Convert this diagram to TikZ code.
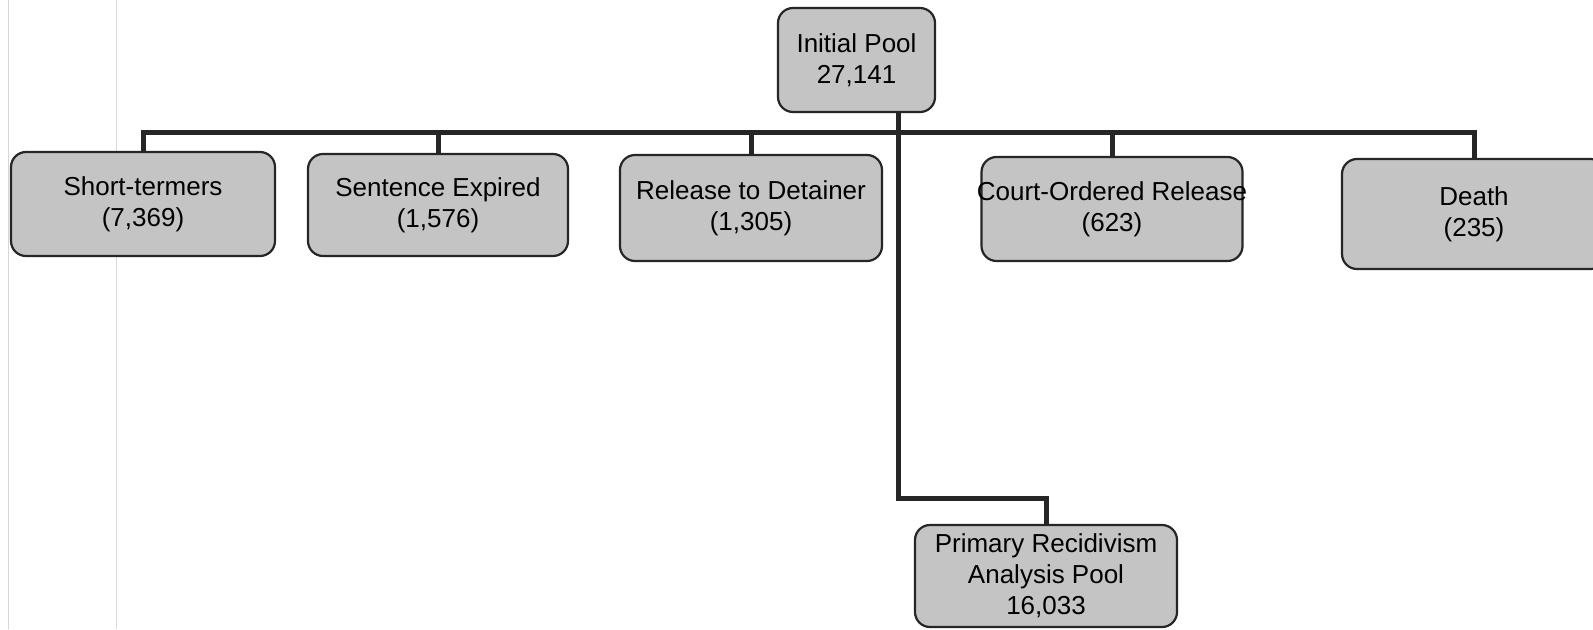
\documentclass[tikz,border=0pt]{standalone}
\usepackage{fontspec}
\setmainfont{Liberation Sans}
\definecolor{boxfill}{RGB}{196,196,196}
\definecolor{scanline}{RGB}{215,215,215}
\tikzset{
  pbox/.style={draw=black!85, line width=1.1pt, fill=boxfill, rounded corners=7.5pt,
    inner sep=0pt, align=center, font=\fontsize{13}{15.5}\selectfont},
  link/.style={draw=black!85, line width=2.5pt}
}
\begin{document}
\begin{tikzpicture}[x=0.5pt,y=-0.5pt]
\useasboundingbox (0,0) rectangle (1593,629);
\fill[white] (0,0) rectangle (1593,629);
% faint scan lines at the left
\draw[scanline, line width=0.5pt] (8,0) -- (8,629);
\draw[scanline, line width=0.5pt] (116,0) -- (116,629);

\node[pbox, minimum width=78.5pt, minimum height=52pt] (init) at (856.5,60) {Initial Pool\\27,141};
\node[pbox, minimum width=132pt, minimum height=52pt] (st) at (143,204) {Short-termers\\(7,369)};
\node[pbox, minimum width=130pt, minimum height=51pt] (se) at (438,205) {Sentence Expired\\(1,576)};
\node[pbox, minimum width=131pt, minimum height=53pt] (rd) at (751,208) {Release to Detainer\\(1,305)};
\node[pbox, minimum width=130.5pt, minimum height=52pt] (co) at (1112,209) {\makebox[100pt]{Court-Ordered Release}\\(623)};
\node[pbox, minimum width=132pt, minimum height=55pt] (de) at (1474,214) {Death\\(235)};
\node[pbox, minimum width=131pt, minimum height=51pt] (pr) at (1046,576) {Primary Recidivism\\Analysis Pool\\16,033};

\coordinate (bus) at (898,132);
\coordinate (elbow) at (898,498);

\draw[link] (st.north) |- (bus);
\draw[link] (se.north) |- (bus);
\draw[link] (rd.north) |- (bus);
\draw[link] (co.north) |- (bus);
\draw[link] (de.north) |- (bus);
\draw[link] (init.south -| bus) -- (elbow) -| (pr.north);
\end{tikzpicture}
\end{document}
